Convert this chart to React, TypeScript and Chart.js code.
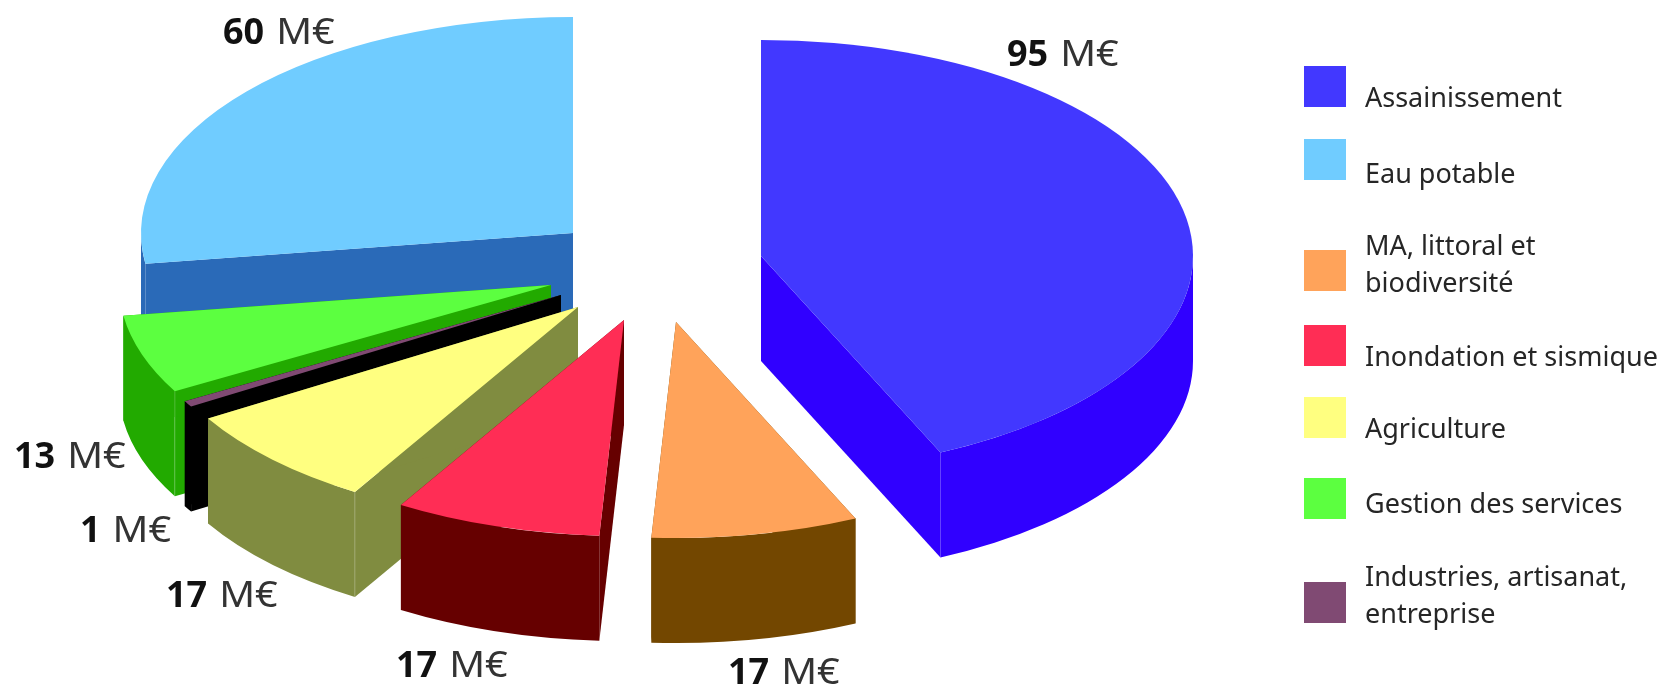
import React, { useEffect, useRef } from "react";
import { Chart, registerables } from "chart.js";

Chart.register(...registerables);

// Slice order runs clockwise from twelve o'clock.
const categories = [
  "Assainissement",
  "MA, littoral et biodiversité",
  "Inondation et sismique",
  "Agriculture",
  "Industries, artisanat, entreprise",
  "Gestion des services",
  "Eau potable",
];
const amounts = [95, 17, 17, 17, 1, 13, 60];
const unit = "M€";

const topColors = ["#4238ff", "#ffa35a", "#ff2d55", "#ffff80", "#804a73", "#5cff40", "#70ccff"];
const wallColors = ["#3000ff", "#734700", "#660000", "#808c40", "#000000", "#22aa00", "#2a6ab8"];

// Where each exploded slice has its tip on the canvas.
const tipX = [761, 676, 624, 578, 561, 551, 573];
const tipY = [256, 322, 320, 307, 295, 285, 233];
// Slices whose two visible walls are separated by a faint highlight.
const ridged = [false, false, false, true, false, true, false];

const RADIUS = 432;
const SQUASH = 0.5;
const DEPTH = 105;

// Value captions: left edge and baseline of each one.
const captionX = [1007, 728, 396, 166, 80, 14, 223];
const captionY = [66, 684, 677, 607, 542, 468, 44];

// Legend rows, in reading order: slice index, swatch top, text baselines, text lines.
const legendOrder = [0, 6, 1, 2, 3, 5, 4];
const legendTop = [66, 139, 250, 325, 397, 478, 582];
const legendBaselines = [[107], [183], [255, 292], [366], [438], [513], [586, 623]];
const legendLines = [
  ["Assainissement"],
  ["Eau potable"],
  ["MA, littoral et", "biodiversité"],
  ["Inondation et sismique"],
  ["Agriculture"],
  ["Gestion des services"],
  ["Industries, artisanat,", "entreprise"],
];

const FONT = '"Noto Sans", sans-serif';

function drawWall(ctx: CanvasRenderingContext2D, arc: any, x: number, y: number, color: string) {
  const { startAngle: a0, endAngle: a1, outerRadius: r } = arc;
  const ry = r * SQUASH;
  ctx.fillStyle = color;
  // Both cut faces, down from the tip.
  for (const a of [a0, a1]) {
    const ex = x + r * Math.cos(a);
    const ey = y + ry * Math.sin(a);
    ctx.beginPath();
    ctx.moveTo(x, y);
    ctx.lineTo(ex, ey);
    ctx.lineTo(ex, ey + DEPTH);
    ctx.lineTo(x, y + DEPTH);
    ctx.closePath();
    ctx.fill();
  }
  // Outer rim: only the near half of the ellipse faces the viewer.
  const from = Math.max(a0, 0);
  const to = Math.min(a1, Math.PI);
  if (to > from) {
    ctx.beginPath();
    ctx.ellipse(x, y, r, ry, 0, from, to, false);
    ctx.ellipse(x, y + DEPTH, r, ry, 0, to, from, true);
    ctx.closePath();
    ctx.fill();
  }
}

const pie3d = {
  id: "pie3d",
  beforeDatasetDraw(chart: any) {
    const { ctx } = chart;
    const arcs = chart.getDatasetMeta(0).data;
    // Back slices first, so that the nearer ones overlap them.
    for (let i = arcs.length - 1; i >= 0; i--) {
      const arc = arcs[i];
      const x = tipX[i];
      const y = tipY[i];
      ctx.save();
      drawWall(ctx, arc, x, y, wallColors[i]);
      if (ridged[i]) {
        const sx = x + arc.outerRadius * Math.cos(arc.startAngle);
        const sy = y + arc.outerRadius * SQUASH * Math.sin(arc.startAngle);
        ctx.strokeStyle = "rgba(255,255,255,0.22)";
        ctx.lineWidth = 1;
        ctx.beginPath();
        ctx.moveTo(sx, sy);
        ctx.lineTo(sx, sy + DEPTH);
        ctx.stroke();
      }
      // The top face is the library's own arc, flattened and moved to its tip.
      ctx.translate(x, y);
      ctx.scale(1, SQUASH);
      ctx.translate(-arc.x, -arc.y);
      arc.draw(ctx);
      ctx.restore();
    }
    return false;
  },
  afterDraw(chart: any) {
    const { ctx } = chart;
    const values = chart.data.datasets[0].data;
    ctx.save();
    ctx.textBaseline = "alphabetic";
    ctx.textAlign = "left";

    values.forEach((v: number, i: number) => {
      const num = String(v);
      ctx.fillStyle = "#111111";
      ctx.font = `bold 36px ${FONT}`;
      ctx.fillText(num, captionX[i], captionY[i]);
      const w = ctx.measureText(num).width;
      // The unit is set slightly wide and in a softer ink than the figure.
      ctx.save();
      ctx.translate(captionX[i] + w + 12, captionY[i]);
      ctx.scale(1.1, 1);
      ctx.fillStyle = "#333333";
      ctx.font = `36px ${FONT}`;
      ctx.fillText(unit, 0, 0);
      ctx.restore();
    });

    ctx.font = `27px ${FONT}`;
    legendOrder.forEach((slice, row) => {
      ctx.fillStyle = topColors[slice];
      ctx.fillRect(1304, legendTop[row], 42, 41);
      ctx.fillStyle = "#262626";
      legendLines[row].forEach((line, k) => {
        ctx.fillText(line, 1365, legendBaselines[row][k]);
      });
    });
    ctx.restore();
  },
};

export default function App() {
  const ref = useRef<HTMLCanvasElement>(null);

  useEffect(() => {
    const chart = new Chart(ref.current!, {
      type: "pie",
      data: {
        labels: categories,
        datasets: [
          {
            data: amounts,
            backgroundColor: topColors,
            borderWidth: 0,
          },
        ],
      },
      options: {
        animation: false,
        responsive: false,
        devicePixelRatio: 1,
        radius: RADIUS,
        plugins: { legend: { display: false }, tooltip: { enabled: false } },
      },
      plugins: [pie3d],
    } as any);
    return () => chart.destroy();
  }, []);

  return (
    <div style={{ position: "absolute", left: 0, top: 0, width: 1661, height: 689, background: "#ffffff" }}>
      <canvas ref={ref} width={1661} height={689} style={{ display: "block" }} />
    </div>
  );
}
